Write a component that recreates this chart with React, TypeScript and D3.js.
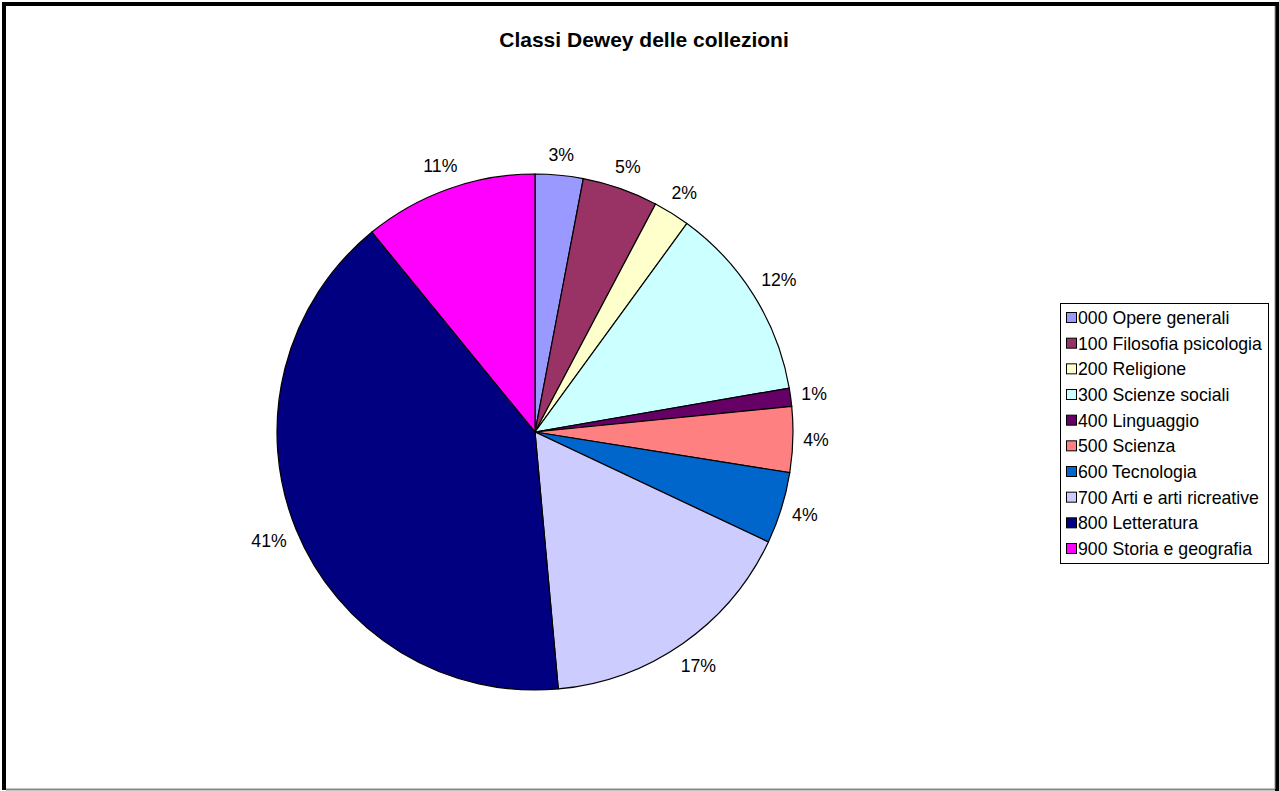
import React from "react";
import * as d3 from "d3";

const categories = [
  "000 Opere generali",
  "100 Filosofia psicologia",
  "200 Religione",
  "300 Scienze sociali",
  "400 Linguaggio",
  "500 Scienza",
  "600 Tecnologia",
  "700 Arti e arti ricreative",
  "800 Letteratura",
  "900 Storia e geografia",
];
const values = [3.0, 4.74, 2.28, 12.26, 1.14, 4.1, 4.49, 16.55, 40.55, 10.89];
const colors = [
  "#9999FF",
  "#993366",
  "#FFFFCC",
  "#CCFFFF",
  "#660066",
  "#FF8080",
  "#0066CC",
  "#CCCCFF",
  "#000080",
  "#FF00FF",
];
const title = "Classi Dewey delle collezioni";

const W = 1279;
const H = 791;
const cx = 535;
const cy = 432;
const R = 258;
const FONT = "'Liberation Sans', Arial, sans-serif";
const LABEL_SIZE = 17.7;

export default function App() {
  const total = d3.sum(values);
  const pie = d3.pie<number>().sort(null).value((d) => d)(values);
  const arc = d3.arc<d3.PieArcDatum<number>>().innerRadius(0).outerRadius(R);

  const labels = pie.map((p, i) => {
    const mid = (p.startAngle + p.endAngle) / 2;
    const pct = Math.round((values[i] / total) * 100) + "%";
    const w = pct.length * 0.56 * LABEL_SIZE;
    const h = LABEL_SIZE * 0.75;
    const dx = Math.sin(mid);
    const dy = -Math.cos(mid);
    const off = R + 13 + Math.abs(dx) * (w / 2) + Math.abs(dy) * (h / 2);
    return { x: cx + dx * off, y: cy + dy * off, text: pct };
  });

  const legX = 1060;
  const legY = 303;
  const legW = 208;
  const legH = 260;
  const rowY = d3.scaleLinear().domain([0, categories.length - 1]).range([legY + 15, legY + 246]);

  return (
    <svg
      width={W}
      height={H}
      style={{ position: "absolute", left: 0, top: 0, display: "block" }}
    >
      <rect x={0} y={0} width={W} height={H} fill="#fff" />
      {/* frame */}
      <line x1={4} y1={2} x2={4} y2={790} stroke="#000" strokeWidth={4} />
      <line x1={2} y1={4} x2={1277} y2={4} stroke="#000" strokeWidth={4} />
      <line x1={1277} y1={2} x2={1277} y2={791} stroke="#000" strokeWidth={4} />
      <line x1={1275} y1={6} x2={1275} y2={789} stroke="#999" strokeWidth={1} />
      <line x1={6} y1={789.5} x2={1275} y2={789.5} stroke="#888" strokeWidth={2} />

      <text
        x={644}
        y={47}
        textAnchor="middle"
        fontFamily={FONT}
        fontWeight="bold"
        fontSize={21}
        fill="#000"
      >
        {title}
      </text>

      <g transform={`translate(${cx},${cy})`}>
        {pie.map((p, i) => (
          <path key={i} d={arc(p) || ""} fill={colors[i]} stroke="#000" strokeWidth={1.2} />
        ))}
      </g>

      {labels.map((l, i) => (
        <text
          key={i}
          x={l.x}
          y={l.y}
          textAnchor="middle"
          dominantBaseline="central"
          fontFamily={FONT}
          fontSize={LABEL_SIZE}
          fill="#000"
        >
          {l.text}
        </text>
      ))}

      <rect x={legX + 0.5} y={legY + 0.5} width={legW} height={legH} fill="#fff" stroke="#000" strokeWidth={1} />
      {categories.map((c, i) => (
        <g key={i}>
          <rect
            x={legX + 6.5}
            y={rowY(i) - 5.5}
            width={10}
            height={10}
            fill={colors[i]}
            stroke="#000"
            strokeWidth={1}
          />
          <text
            x={legX + 18}
            y={rowY(i)}
            dominantBaseline="central"
            fontFamily={FONT}
            fontSize={LABEL_SIZE}
            fill="#000"
          >
            {c}
          </text>
        </g>
      ))}
    </svg>
  );
}
